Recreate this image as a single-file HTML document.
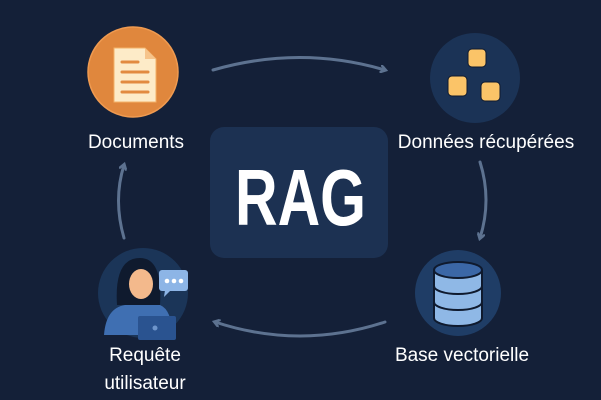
<!DOCTYPE html>
<html><head><meta charset="utf-8"><style>
html,body{margin:0;padding:0;background:#142038;}
body{width:601px;height:400px;overflow:hidden;position:relative;font-family:"Liberation Sans",sans-serif;}
.t{position:absolute;color:#fff;font-size:19px;text-align:center;white-space:nowrap;transform:translateX(-50%);}
</style></head><body>
<svg width="601" height="400" style="position:absolute;left:0;top:0">
<defs><marker id="a" markerWidth="8" markerHeight="8" refX="5" refY="4" orient="auto" markerUnits="userSpaceOnUse"><path d="M0,0 L6,4 L0,8" fill="none" stroke="#5d7290" stroke-width="2.5"/></marker></defs>
<g fill="none" stroke="#5d7290" stroke-width="3" stroke-linecap="round">
<path d="M213,70 Q300,45 385,70" marker-end="url(#a)"/>
<path d="M480,162 Q492,200 480,238" marker-end="url(#a)"/>
<path d="M385,322 Q300,350 215,322" marker-end="url(#a)"/>
<path d="M124,238 Q113,200 124,165" marker-end="url(#a)"/>
</g>
<rect x="210" y="127" width="178" height="131" rx="14" fill="#1c3152"/>
<text x="235" y="225" fill="#fff" font-family="Liberation Sans,sans-serif" font-weight="bold" font-size="80" textLength="131" lengthAdjust="spacingAndGlyphs">RAG</text>
<!-- documents -->
<circle cx="133" cy="72" r="45" fill="#e0873d" stroke="#ef9a50" stroke-width="1.5"/>
<path d="M114,48 H145 L156,59 V102 H114 Z" fill="#fdebc8" stroke="#f3b067" stroke-width="1"/>
<path d="M145,48 V59 H156 Z" fill="#f6c48b"/>
<g stroke="#e28a3f" stroke-width="3" stroke-linecap="round"><line x1="122" y1="62" x2="138" y2="62"/><line x1="122" y1="72" x2="148" y2="72"/><line x1="122" y1="82" x2="148" y2="82"/><line x1="122" y1="92" x2="148" y2="92"/></g>
<!-- data -->
<circle cx="475" cy="78" r="45" fill="#1b3356"/>
<g fill="#fbc468" stroke="#0f1a2e" stroke-width="1"><rect x="468" y="49" width="18" height="18" rx="4"/><rect x="448" y="76" width="19" height="20" rx="4"/><rect x="481" y="82" width="19" height="19" rx="4"/></g>
<!-- db -->
<circle cx="458" cy="293" r="43" fill="#1f3d66"/>
<g stroke="#0f1a2e" stroke-width="2">
<path d="M434,270 V318 A24,8 0 0 0 482,318 V270" fill="#8fb8e6"/>
<path d="M434,286 A24,8 0 0 0 482,286 M434,302 A24,8 0 0 0 482,302" fill="none"/>
<ellipse cx="458" cy="270" rx="24" ry="8" fill="#3b67a6"/>
</g>
<!-- user -->
<circle cx="143" cy="293" r="45" fill="#1b3558"/>
<path d="M117,305 Q114,258 140,258 Q163,258 160,305 Z" fill="#0f1a2e"/>
<ellipse cx="141" cy="284" rx="12" ry="15" fill="#f3b98c"/>
<path d="M104,335 Q106,308 125,305 L160,305 Q172,310 172,335 Z" fill="#3f6fb2"/>
<rect x="138" y="316" width="38" height="24" rx="2" fill="#2a5390"/>
<circle cx="155" cy="328" r="2.5" fill="#6e95cb"/>
<rect x="159" y="270" width="29" height="21" rx="3" fill="#8db5e6"/>
<path d="M165,290 L164,297 L171,290 Z" fill="#8db5e6"/>
<g fill="#fff"><circle cx="167" cy="281" r="2.3"/><circle cx="174" cy="281" r="2.3"/><circle cx="181" cy="281" r="2.3"/></g>
</svg>
<div class="t" style="left:136px;top:132px">Documents</div>
<div class="t" style="left:486px;top:132px">Données récupérées</div>
<div class="t" style="left:462px;top:345px">Base vectorielle</div>
<div class="t" style="left:145px;top:342px;line-height:28px">Requête<br>utilisateur</div>
</body></html>
